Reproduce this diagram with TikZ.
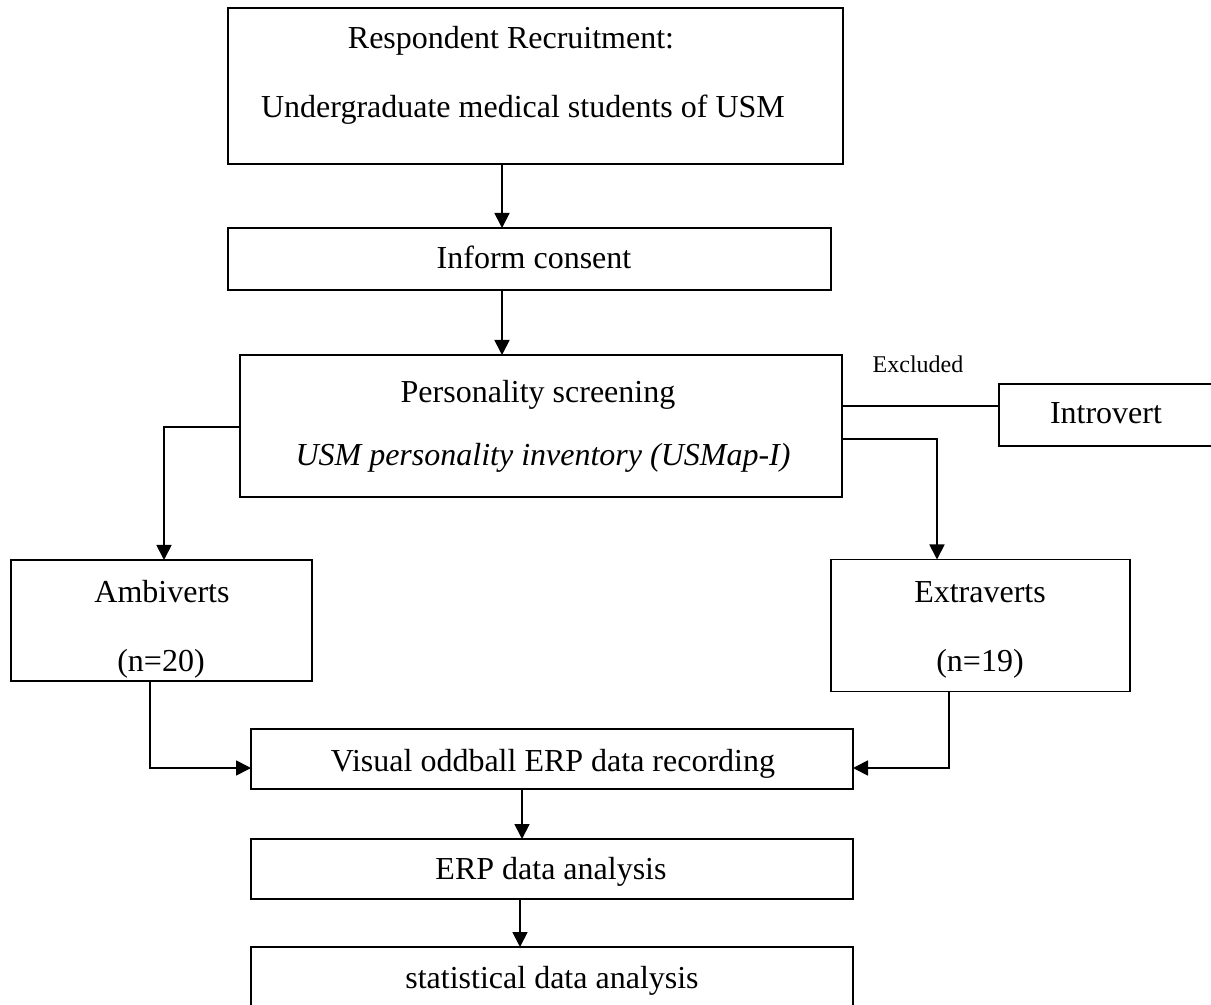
\documentclass[tikz,border=0pt]{standalone}
\usepackage{fontspec}
\setmainfont{Liberation Serif}
\usetikzlibrary{arrows.meta}
\tikzset{
  box/.style={draw=black, line width=0.7pt, inner sep=0pt, outer sep=0pt, fill=none},
  txt/.style={inner sep=0pt, anchor=base, font=\fontsize{16pt}{19pt}\selectfont},
  small/.style={inner sep=0pt, anchor=base, font=\fontsize{12pt}{14pt}\selectfont},
  conn/.style={draw=black, line width=0.9pt},
  arr/.style={conn, -{Triangle[length=7.5pt,width=7.5pt]}}
}
\begin{document}
\begin{tikzpicture}[x=0.5pt,y=-0.5pt]
\useasboundingbox (0,0) rectangle (1211,1005);
\clip (0,0) rectangle (1211,1005);
\fill[white] (0,0) rectangle (1211,1005);

% boxes
\node[box, minimum width=307.5pt, minimum height=78pt] (b1) at (535.5,86) {};
\node[box, minimum width=301.5pt, minimum height=31pt] (b2) at (529.5,259) {};
\node[box, minimum width=301pt, minimum height=71pt] (b3) at (541,426) {};
\node[box, minimum width=108pt, minimum height=31pt] (intro) at (1107,415) {};
\node[box, minimum width=150.5pt, minimum height=60.5pt] (amb) at (161.5,620.5) {};
\node[box, minimum width=149.5pt, minimum height=66pt] (ext) at (980.5,625.5) {};
\node[box, minimum width=301pt, minimum height=30pt] (vis) at (552,759) {};
\node[box, minimum width=301pt, minimum height=30pt] (erp) at (552,869) {};
\node[box, minimum width=301pt, minimum height=32.5pt] (stat) at (552,979.5) {};

% texts
\node[txt] (t1a) at (511,49) {Respondent Recruitment:};
\node[txt] (t1b) at (523,118) {Undergraduate medical students of USM};
\node[txt] (t2) at (534,269) {Inform consent};
\node[txt] (t3a) at (538,403) {Personality screening};
\node[txt] (t3b) at (543,466) {\itshape USM personality inventory (USMap-I)};
\node[small] (tex) at (918,373) {Excluded};
\node[txt] (tin) at (1106,424) {Introvert};
\node[txt] (tama) at (162,603) {Ambiverts};
\node[txt] (tamb) at (161,671) {(n=20)};
\node[txt] (texa) at (980,603) {Extraverts};
\node[txt] (texb) at (980,671) {(n=19)};
\node[txt] (tvis) at (553,771) {Visual oddball ERP data recording};
\node[txt] (terp) at (551,879) {ERP data analysis};
\node[txt] (tstat) at (552,988) {statistical data analysis};

% connectors
\draw[arr] (b1.south -| 502,0) -- (b2.north -| 502,0);
\draw[arr] (b2.south -| 502,0) -- (b3.north -| 502,0);
\draw[conn] (b3.east |- 0,406) -- (intro.west |- 0,406);
\draw[arr] (b3.east |- 0,439) -| (ext.north -| 937,0);
\draw[arr] (b3.west |- 0,427) -| (amb.north -| 164,0);
\draw[arr] (amb.south -| 150,0) |- (vis.west |- 0,768);
\draw[arr] (ext.south -| 949,0) |- (vis.east |- 0,768);
\draw[arr] (vis.south -| 522,0) -- (erp.north -| 522,0);
\draw[arr] (erp.south -| 520,0) -- (stat.north -| 520,0);
\end{tikzpicture}
\end{document}
